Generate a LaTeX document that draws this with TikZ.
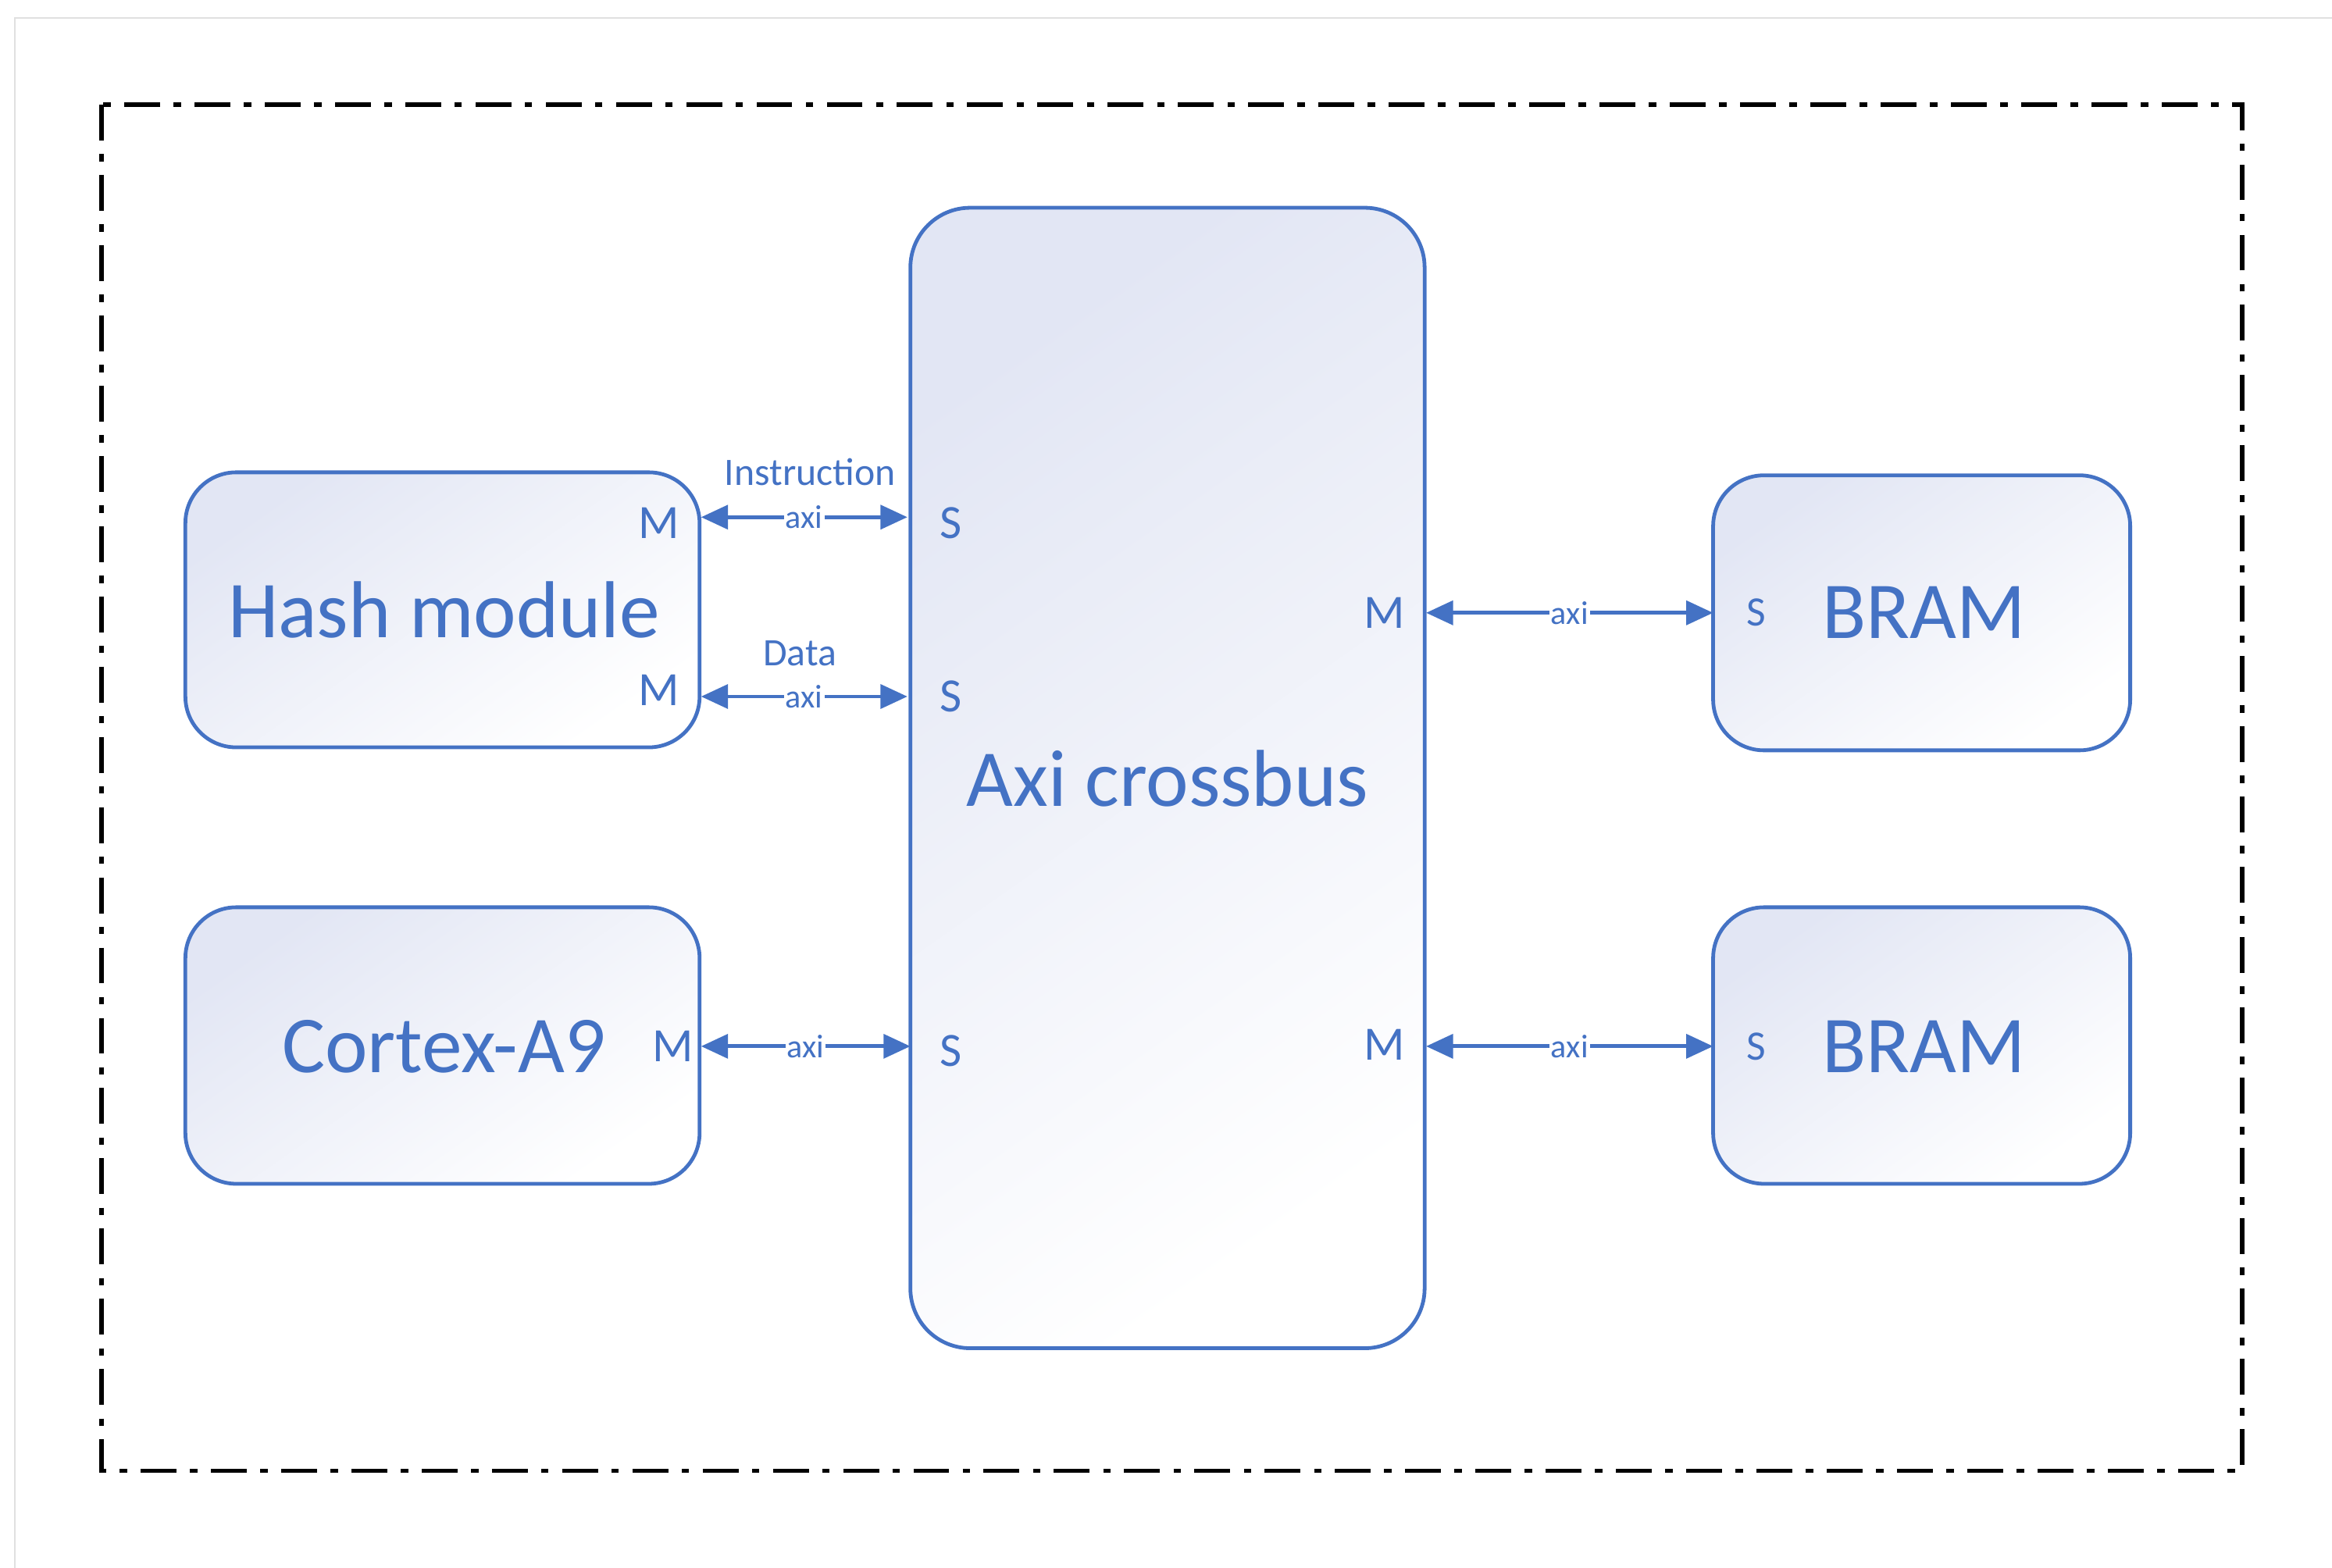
\documentclass[tikz,border=0pt]{standalone}
\usepackage{fontspec}
\setmainfont{Carlito}
\usetikzlibrary{arrows.meta}
\definecolor{bl}{RGB}{68,114,196}
\definecolor{lav}{RGB}{226,230,244}
\begin{document}
\begin{tikzpicture}[x=1pt,y=-1pt,
  box/.style={draw=bl,line width=2.5pt,rounded corners=34pt,top color=lav,bottom color=white,shading angle=35},
  big/.style={text=bl,font=\fontsize{54}{56}\selectfont},
  port/.style={text=bl,font=\fontsize{32}{34}\selectfont},
  lbl/.style={text=bl,font=\fontsize{26}{28}\selectfont},
  axi/.style={text=bl,fill=white,inner sep=1pt,font=\fontsize{22}{24}\selectfont},
  link/.style={draw=bl,line width=2.5pt,{Triangle[length=18pt,width=16pt]}-{Triangle[length=18pt,width=16pt]}}]
\useasboundingbox (0,0) rectangle (1560,1049);
\fill[white] (0,0) rectangle (1560,1049);
\draw[black!12,line width=1pt] (10,1049) -- (10,12) -- (1560,12);
\draw[line width=3pt,dash pattern=on 24pt off 9pt on 5pt off 9pt] (68,70) rectangle (1500,984);
\draw[box] (124,316) rectangle (468,500);
\draw[box] (124,607) rectangle (468,792);
\draw[box,rounded corners=40pt] (609,139) rectangle (953,902);
\draw[box] (1146,318) rectangle (1425,502);
\draw[box] (1146,607) rectangle (1425,792);
\node[big] (hash) at (297,408) {Hash module};
\node[big] (cortex) at (297,700) {Cortex-A9};
\node[big] (axi) at (781,521) {Axi crossbus};
\node[big] (bram1) at (1287,410) {BRAM};
\node[big] (bram2) at (1287,700) {BRAM};
\node[port] (hm1) at (441,350) {M};
\node[port] (hm2) at (441,462) {M};
\node[port] (cm) at (450,700) {M};
\node[port] (s1) at (636,350) {S};
\node[port] (s2) at (636,466) {S};
\node[port] (s3) at (636,703) {S};
\node[port] (m1) at (926,410) {M};
\node[port] (m2) at (926,699) {M};
\node[port,font=\fontsize{28}{30}\selectfont] (bs1) at (1175,410) {S};
\node[port,font=\fontsize{28}{30}\selectfont] (bs2) at (1175,700) {S};
\coordinate (h1) at (469,346); \coordinate (x1) at (607,346);
\coordinate (h2) at (469,466); \coordinate (x2) at (607,466);
\coordinate (c1) at (469,700); \coordinate (x3) at (609,700);
\coordinate (x4) at (954,410); \coordinate (b1) at (1146,410);
\coordinate (x5) at (954,700); \coordinate (b2) at (1146,700);
\draw[link] (h1) -- node[axi]{axi} (x1);
\draw[link] (h2) -- node[axi]{axi} (x2);
\draw[link] (c1) -- node[axi]{axi} (x3);
\draw[link] (x4) -- node[axi]{axi} (b1);
\draw[link] (x5) -- node[axi]{axi} (b2);
\node[lbl] (instr) at (542,316) {Instruction};
\node[lbl] (data) at (535,437) {Data};
\end{tikzpicture}
\end{document}
